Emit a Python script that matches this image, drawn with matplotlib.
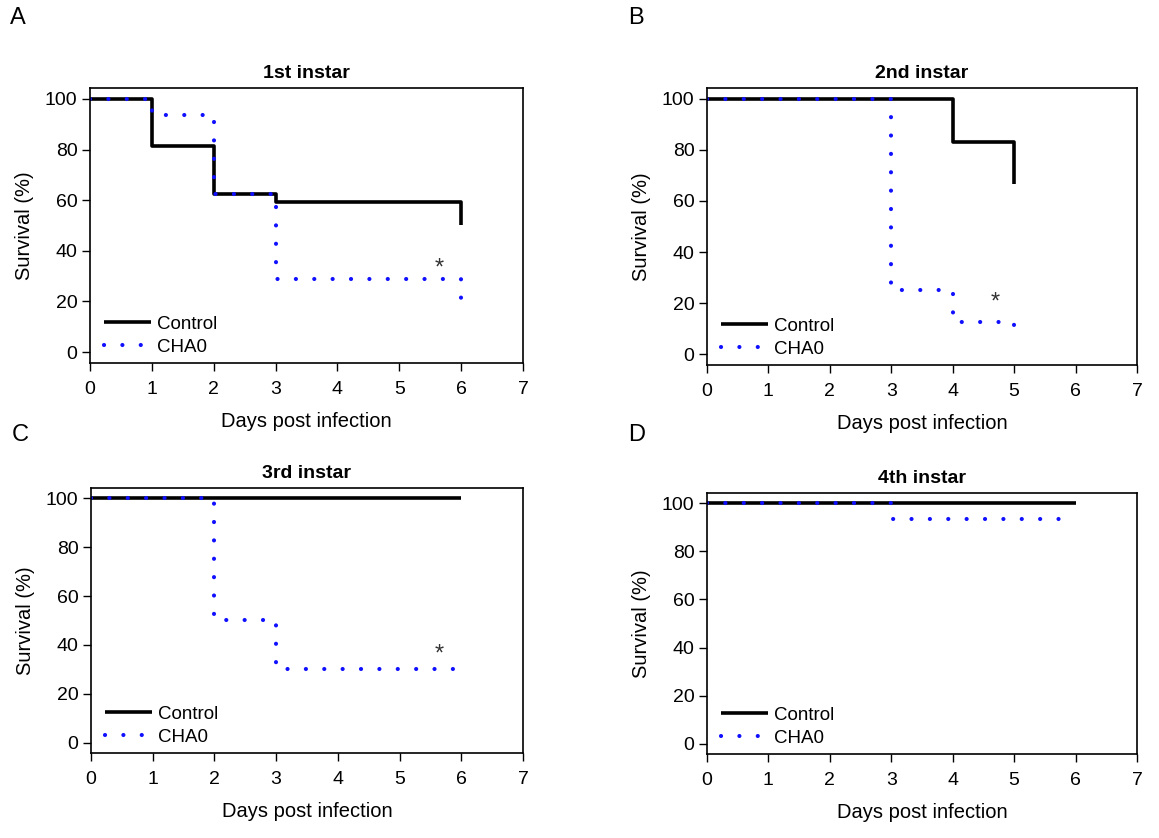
import matplotlib
matplotlib.use("Agg")
import matplotlib.pyplot as plt

plt.rcParams['font.family'] = ['Liberation Sans', 'DejaVu Sans']

panel_letters = ["A", "B", "C", "D"]
titles = ["1st instar", "2nd instar", "3rd instar", "4th instar"]

# survival curves (time of each step, survival % after that step)
control_t = [[0, 1, 2, 3, 6], [0, 4, 5], [0, 6], [0, 6]]
control_s = [[100, 81.2, 62.5, 59.4, 50], [100, 83.3, 66.7], [100, 100], [100, 100]]
cha0_t = [[0, 1, 2, 3, 6], [0, 3, 4, 5], [0, 2, 3, 6], [0, 3, 5.9]]
cha0_s = [[100, 93.8, 62.5, 29, 21], [100, 25, 12.5, 11], [100, 50, 30, 30], [100, 93.3, 93.3]]

# significance marks
star_x = [5.65, 4.7, 5.65, None]
star_y = [33, 20, 36, None]

W, H = 1159, 838
# axes boxes in pixels: left, right, top, bottom
boxes = [(90, 523, 88, 363), (707, 1137, 88, 365),
         (91, 523, 488, 753), (707, 1137, 493, 754)]
letter_pos = [(10, 18), (628, 18), (12, 435), (628, 435)]

fig = plt.figure(figsize=(W / 100, H / 100), dpi=100)

for i in range(4):
    l, r, t, b = boxes[i]
    ax = fig.add_axes([l / W, 1 - b / H, (r - l) / W, (b - t) / H])
    ax.step(control_t[i], control_s[i], where='post', color='black', lw=2.6,
            label='Control', solid_capstyle='butt')
    ax.step(cha0_t[i], cha0_s[i], where='post', color='#1010ff', lw=3.0,
            linestyle=(0, (0.01, 4.4)), dash_capstyle='round', label='CHA0')
    if star_x[i] is not None:
        ax.text(star_x[i], star_y[i], '*', fontsize=17, ha='center', va='center',
                color='#333333')
    ax.set_xlim(0, 7)
    ax.set_ylim(-4.3, 104.3)
    ax.set_xticks(range(8))
    ax.set_yticks(range(0, 101, 20))
    ax.tick_params(labelsize=14, length=6, width=1, direction='out')
    ax.tick_params(axis='x', pad=7)
    ax.tick_params(axis='y', pad=3)
    for sp in ax.spines.values():
        sp.set_linewidth(1.2)
    ax.set_xlabel('Days post infection', fontsize=14.5, labelpad=10)
    ax.set_ylabel('Survival (%)', fontsize=14.5, labelpad=8)
    ax.set_title(titles[i], fontsize=14, fontweight='bold', pad=7)
    ax.legend(loc='lower left', frameon=False, fontsize=13.5, handlelength=2.5,
              handletextpad=0.35, labelspacing=0.3, borderaxespad=0.0,
              bbox_to_anchor=(0.015, 0.0))
    fig.text(letter_pos[i][0] / W, 1 - letter_pos[i][1] / H, panel_letters[i],
             fontsize=17, ha='left', va='center')

fig.savefig('out.png', dpi=100, facecolor='white')
